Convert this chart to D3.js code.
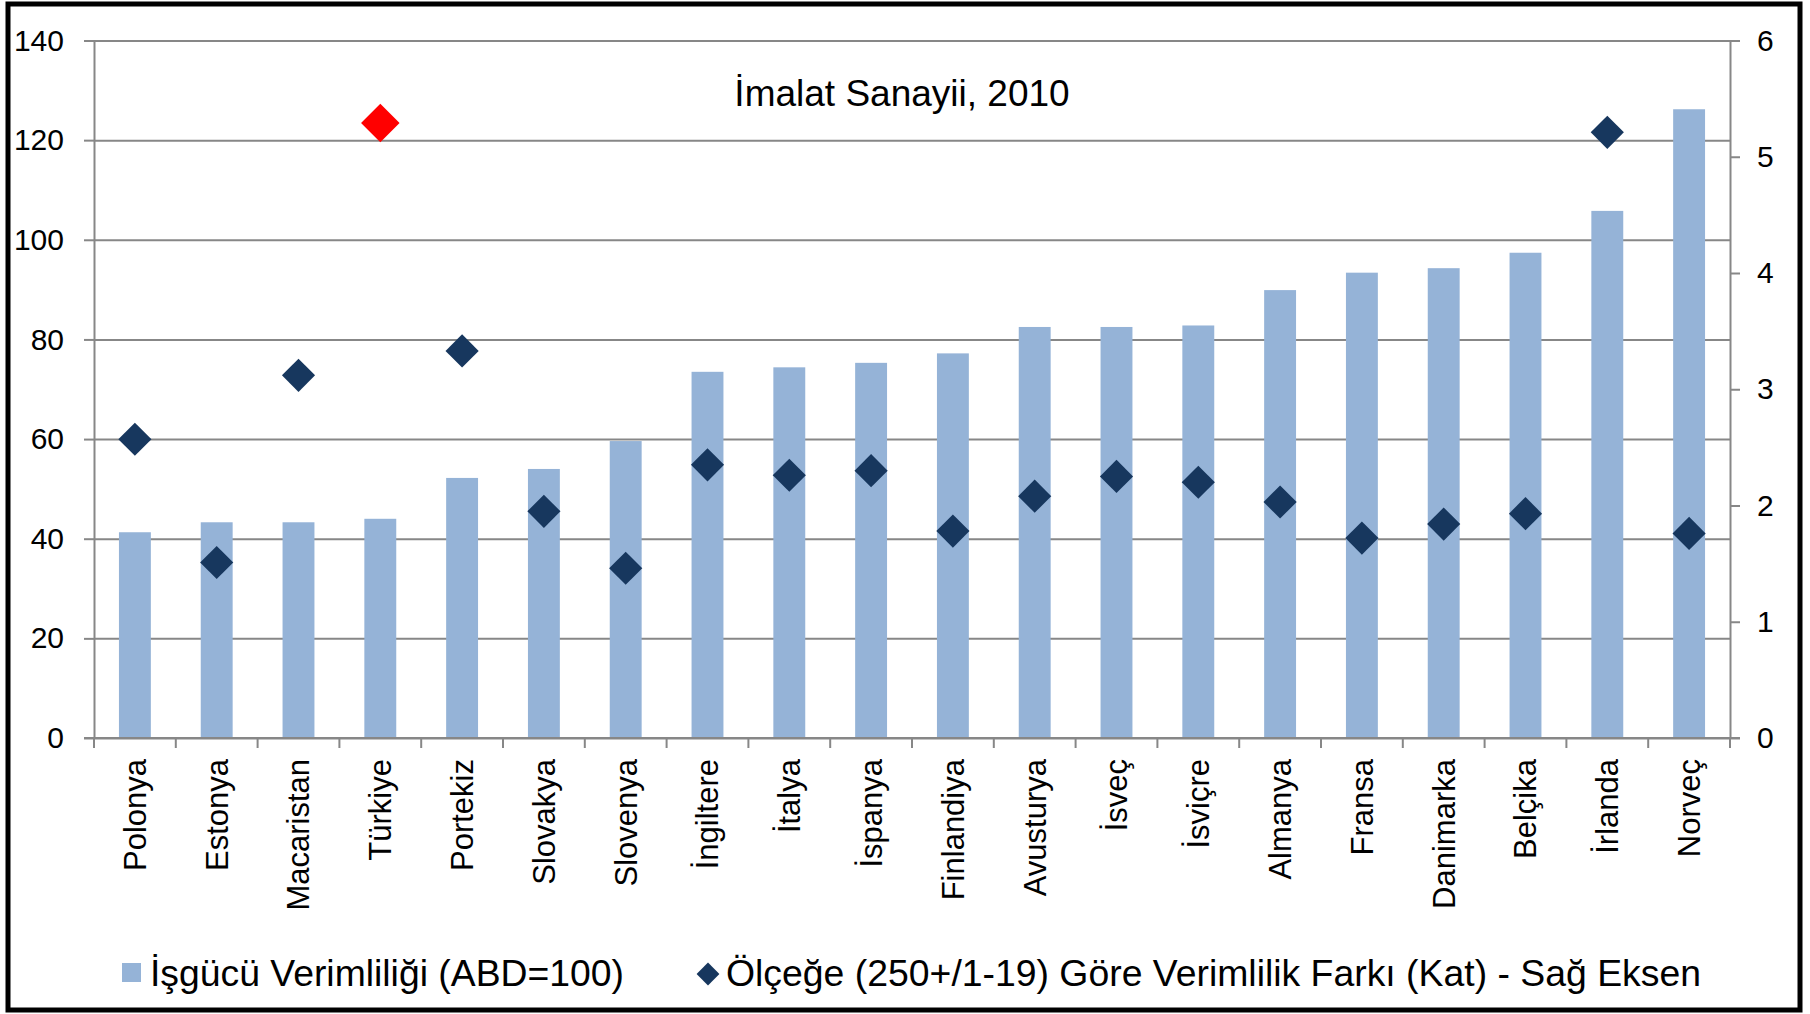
<!DOCTYPE html>
<html>
<head>
<meta charset="utf-8">
<script src="https://cdn.jsdelivr.net/npm/d3@7"></script>
<style>
  html, body { margin: 0; padding: 0; background: #fff; overflow: hidden; }
  svg { display: block; }
  text { font-family: "Liberation Sans", Arial, sans-serif; fill: #000; }
</style>
</head>
<body>
<svg id="chart"></svg>
<script>
// ülkeler
const countries = ["Polonya", "Estonya", "Macaristan", "Türkiye", "Portekiz", "Slovakya", "Slovenya",
  "İngiltere", "İtalya", "İspanya", "Finlandiya", "Avusturya", "İsveç", "İsviçre", "Almanya",
  "Fransa", "Danimarka", "Belçika", "İrlanda", "Norveç"];

// İşgücü verimliliği (ABD=100) - sol eksen
const productivity = [41.3, 43.3, 43.3, 44.0, 52.2, 54.0, 59.6, 73.5, 74.4, 75.3, 77.2,
  82.5, 82.5, 82.8, 89.9, 93.4, 94.3, 97.4, 105.8, 126.2];

// ölçeğe göre verimlilik farkı (kat) - sağ eksen
const scaleGap = [2.57, 1.51, 3.12, 5.29, 3.33, 1.95, 1.46, 2.35, 2.26, 2.30, 1.78,
  2.08, 2.25, 2.20, 2.03, 1.72, 1.84, 1.93, 5.21, 1.76];

const leftTicks = [0, 20, 40, 60, 80, 100, 120, 140];
const rightTicks = [0, 1, 2, 3, 4, 5, 6];
const highlight = "Türkiye";

const title = "İmalat Sanayii, 2010";
const legendBar = "İşgücü Verimliliği (ABD=100)";
const legendDot = "Ölçeğe (250+/1-19) Göre Verimlilik Farkı (Kat) - Sağ Eksen";

const width = 1810, height = 1014;
const margin = { top: 40.5, left: 94, right: 80, bottom: 276 };
const innerWidth = width - margin.left - margin.right;
const innerHeight = height - margin.top - margin.bottom;

const gridColor = "#878787";
const barColor = "#95B3D7";
const dotColor = "#17375E";

const svg = d3.select("#chart").attr("width", width).attr("height", height);

// outer frame
svg.append("rect")
  .attr("x", 8).attr("y", 4)
  .attr("width", 1792).attr("height", 1006)
  .attr("fill", "none").attr("stroke", "#000").attr("stroke-width", 5);

const g = svg.append("g").attr("transform", `translate(${margin.left},${margin.top})`);

const x = d3.scaleBand().domain(countries).range([0, innerWidth]).padding(0);
const yL = d3.scaleLinear().domain([0, 140]).range([innerHeight, 0]);
const yR = d3.scaleLinear().domain([0, 6]).range([innerHeight, 0]);

// gridlines
g.append("g")
  .call(d3.axisLeft(yL).tickValues(leftTicks).tickSize(-innerWidth).tickFormat(""))
  .call(a => a.select(".domain").remove())
  .selectAll("line").attr("stroke", gridColor).attr("stroke-width", 2);

// left axis
const left = g.append("g")
  .call(d3.axisLeft(yL).tickValues(leftTicks).tickSizeInner(10).tickSizeOuter(0).tickPadding(20));
left.select(".domain").attr("stroke", gridColor).attr("stroke-width", 2);
left.selectAll(".tick line").attr("stroke", gridColor).attr("stroke-width", 2);
left.selectAll(".tick text").attr("font-size", 30).attr("font-family", "Liberation Sans").attr("fill", "#000");

// right axis
const right = g.append("g")
  .attr("transform", `translate(${innerWidth},0)`)
  .call(d3.axisRight(yR).tickValues(rightTicks).tickFormat(d3.format("d"))
    .tickSizeInner(10).tickSizeOuter(0).tickPadding(17));
right.select(".domain").attr("stroke", gridColor).attr("stroke-width", 2);
right.selectAll(".tick line").attr("stroke", gridColor).attr("stroke-width", 2);
right.selectAll(".tick text").attr("font-size", 30).attr("font-family", "Liberation Sans").attr("fill", "#000");

// bars
const barW = x.bandwidth() * 0.39;
g.selectAll(".bar")
  .data(countries)
  .join("rect")
  .attr("class", "bar")
  .attr("x", d => x(d) + (x.bandwidth() - barW) / 2)
  .attr("width", barW)
  .attr("y", (d, i) => yL(productivity[i]))
  .attr("height", (d, i) => innerHeight - yL(productivity[i]))
  .attr("fill", barColor);

// bottom axis (ticks at band edges)
const edges = countries.map(d => x(d)).concat([innerWidth]);
const bottom = g.append("g").attr("transform", `translate(0,${innerHeight})`);
bottom.append("line")
  .attr("x1", -10).attr("x2", innerWidth + 10)
  .attr("stroke", gridColor).attr("stroke-width", 2);
bottom.selectAll(".edge")
  .data(edges)
  .join("line")
  .attr("x1", d => d).attr("x2", d => d)
  .attr("y1", 0).attr("y2", 10)
  .attr("stroke", gridColor).attr("stroke-width", 2);
bottom.selectAll(".cat")
  .data(countries)
  .join("text")
  .attr("transform", d => `translate(${x(d) + x.bandwidth() / 2},21)rotate(-90)`)
  .attr("dy", "0.35em")
  .attr("text-anchor", "end")
  .attr("font-size", 31)
  .text(d => d);

// diamonds
const diamond = s => d3.symbol(d3.symbolSquare, s)();
g.selectAll(".dot")
  .data(countries)
  .join("path")
  .attr("class", "dot")
  .attr("transform", (d, i) => `translate(${x(d) + x.bandwidth() / 2},${yR(scaleGap[i])})rotate(45)`)
  .attr("d", d => d === highlight ? diamond(740) : diamond(550))
  .attr("fill", d => d === highlight ? "#FF0000" : dotColor);

// title
g.append("text")
  .attr("x", 902 - margin.left)
  .attr("y", 106 - margin.top)
  .attr("text-anchor", "middle")
  .attr("font-size", 37)
  .text(title);

// legend
const leg = svg.append("g");
leg.append("rect")
  .attr("x", 122).attr("y", 963).attr("width", 19).attr("height", 19)
  .attr("fill", barColor);
leg.append("text")
  .attr("x", 150).attr("y", 986)
  .attr("font-size", 37)
  .attr("textLength", 474).attr("lengthAdjust", "spacingAndGlyphs")
  .text(legendBar);
leg.append("path")
  .attr("transform", "translate(708,974)rotate(45)")
  .attr("d", diamond(260))
  .attr("fill", dotColor);
leg.append("text")
  .attr("x", 726).attr("y", 986)
  .attr("font-size", 37)
  .attr("textLength", 975).attr("lengthAdjust", "spacingAndGlyphs")
  .text(legendDot);
</script>
</body>
</html>
